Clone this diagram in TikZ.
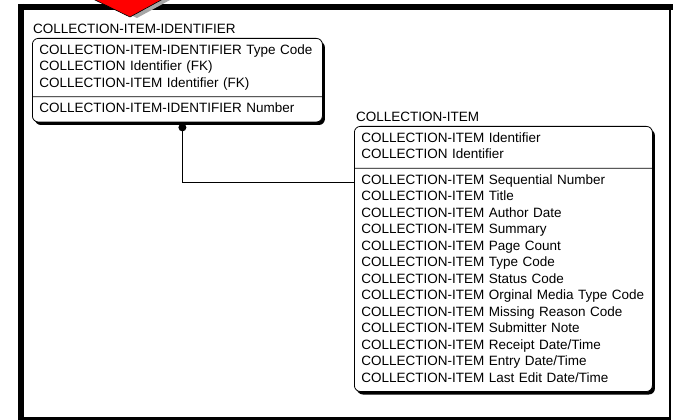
\documentclass[tikz,border=0pt]{standalone}
\usepackage{fontspec}
\setmainfont{Liberation Sans}
\usepackage{tikz}
\usetikzlibrary{positioning}
\usetikzlibrary{shapes.multipart}
\usetikzlibrary{shadows}
\tikzset{basic entity/.style={draw,
                      rectangle split,
                      rectangle split parts=2,
                      rounded corners=6pt,
                      inner xsep=7pt,
                      inner ysep=4pt,
                      line width=0.8pt,
                      fill=white}}
\tikzset{entity/.style={basic entity,
                      drop shadow={shadow xshift=2.5pt,
                                   shadow yshift=-3pt,
                                   fill=black,opacity=1}}}
\tikzset{title/.style={inner sep=0pt}}
\tikzset{frame/.style={draw,black}}

\begin{document}
\begin{tikzpicture}
      [
      x=1pt,y=1pt,
      font=\fontsize{13.5pt}{16.5pt}\selectfont,
      ]
      \useasboundingbox (0,0) rectangle (673,-420);

      % frame
      \foreach \a/\b/\w in
      {
      {(21,-4)}/{(21,-420)}/6pt,
      {(18,-7)}/{(673,-7)}/6pt,
      {(670,-7)}/{(670,-420)}/1.5pt,
      {(18,-418.5)}/{(670,-418.5)}/3pt
      }
      {
      \path [frame,line width=\w] \a -- \b;
      }

      % arrow
      \fill [black!35] (99,0) -- (170,0) -- (137,-18) -- cycle;
      \filldraw [fill=red,draw=black,line width=0.6pt] (93,1) -- (163,1) -- (130,-17) -- cycle;

      % entities
      \node [entity,text width=276pt,anchor=north west] (E1) at (32,-38)
      {\strut COLLECTION-ITEM-IDENTIFIER Type Code\\
       COLLECTION Identifier (FK)\\
       COLLECTION-ITEM Identifier (FK)\strut
       \nodepart{two}\strut COLLECTION-ITEM-IDENTIFIER Number\strut};
      \node [title,above right=4pt and 1pt of E1.north west] (T1) {COLLECTION-ITEM-IDENTIFIER};

      \node [entity,text width=284pt,anchor=north west] (E2) at (354,-126)
      {\strut COLLECTION-ITEM Identifier\\
       COLLECTION Identifier\strut
       \nodepart{two}\strut COLLECTION-ITEM Sequential Number\\
       COLLECTION-ITEM Title\\
       COLLECTION-ITEM Author Date\\
       COLLECTION-ITEM Summary\\
       COLLECTION-ITEM Page Count\\
       COLLECTION-ITEM Type Code\\
       COLLECTION-ITEM Status Code\\
       COLLECTION-ITEM Orginal Media Type Code\\
       COLLECTION-ITEM Missing Reason Code\\
       COLLECTION-ITEM Submitter Note\\
       COLLECTION-ITEM Receipt Date/Time\\
       COLLECTION-ITEM Entry Date/Time\\
       COLLECTION-ITEM Last Edit Date/Time\strut};
      \node [title,above right=4pt and 2pt of E2.north west] (T2) {COLLECTION-ITEM};

      % relationship
      \coordinate (R) at ([xshift=5pt,yshift=-5pt]E1.south);
      \draw [line width=0.8pt] ([xshift=5pt]E1.south) -- (R) |- ([yshift=-14pt]E2.one split west);
      \fill (R) circle (4pt);

\end{tikzpicture}
\end{document}
